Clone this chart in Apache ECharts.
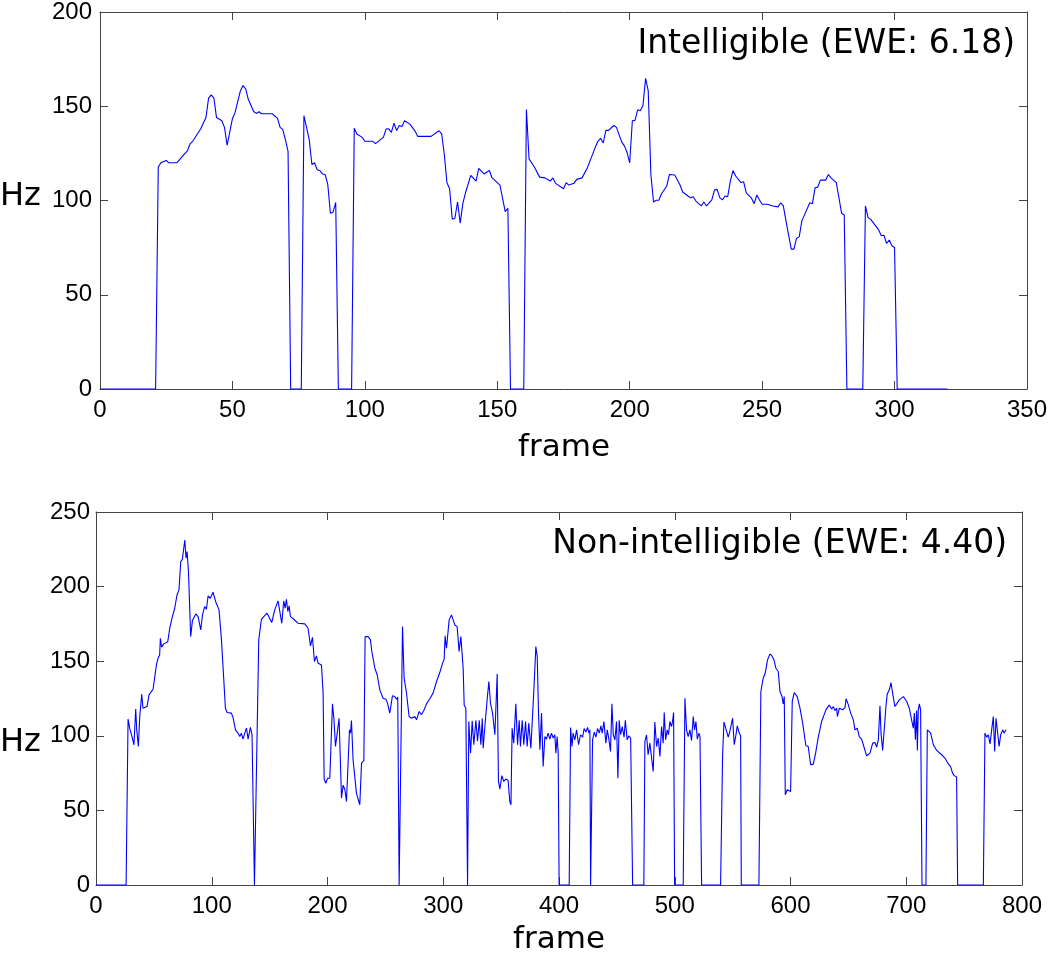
<!DOCTYPE html>
<html>
<head>
<meta charset="utf-8">
<script src="https://cdn.jsdelivr.net/npm/echarts@6/dist/echarts.min.js"></script>
<style>
html,body{margin:0;padding:0;background:#fff;}
#chart{width:1050px;height:954px;}
</style>
</head>
<body>
<div id="chart"></div>
<script>
// ---- Data: top panel (Intelligible) ----
const topFrames = [0,21,22,23,25,26,29,32,33,34,35,38,40,41,42,43,44,46,47,48,50,51,53,54,55,56,58,59,60,61,65,67,68,69,70,71,72,76,77,79,80,81,82,83,84,85,86,87,88,89,90,95,96,97,99,100,103,104,107,108,109,110,111,112,113,114,115,117,119,120,125,128,129,130,131,132,133,134,135,136,137,138,140,142,143,145,147,148,151,153,154,155,160,161,162,164,166,168,170,171,172,175,176,177,179,180,182,184,187,188,189,190,191,192,194,195,197,198,199,200,201,202,203,204,205,206,207,208,209,210,211,212,214,215,217,219,220,222,223,224,225,227,228,229,231,232,233,234,235,236,237,238,239,240,242,243,244,246,247,248,249,250,252,254,256,257,258,259,261,262,263,264,265,268,269,270,271,272,274,275,276,278,279,280,281,282,288,289,290,291,294,295,296,297,298,299,300,301,320];
const topHz = [0,0,117.8,120,121.2,120,120,124.9,126.3,130,131.4,137.9,144,154.3,156,154.3,144,142.3,138.8,129.3,143.4,146.7,158.1,161,159.2,153.7,147.2,146.2,147.1,146,146,143.7,138.8,137.7,132.3,126.1,0,0,145,132.3,119.1,120,116.3,115.9,114.1,113.8,108.5,93.2,93.8,99,0,0,138.3,135.3,133.5,131.4,131.4,130.2,133.5,137.9,138,136.1,141,137.1,139.8,139.2,142.3,140.5,136.7,134,134,137,135.3,124.4,109.4,106.2,90.1,90.6,99.2,88,98.5,104.1,113.3,110.3,117,114.1,115.9,112.1,108.2,94.1,95.9,0,0,148.3,122.1,117.8,112.4,112,110.3,112,109.1,106.2,109.5,108.2,109.2,111.2,112,117.3,128.2,131.4,133,130.5,137.2,137.2,139.8,138.8,131,129,125.5,120,142.3,142.5,148.1,147.6,150.4,164.8,158.1,113.8,99.2,100.1,100.1,103.6,107.7,113.8,113.5,108.2,104.5,102.4,101.5,102,99.7,97.1,99.2,97.1,100.3,105.5,105.9,101.5,100.3,102.4,102,110.3,115.9,113,109.5,110,104.1,101.2,98.3,102.9,100.3,98,98,97.1,96.6,98.8,97.1,89.2,74.2,74.2,80,80.7,89.2,98.8,98.3,106.8,107.1,110.8,110.8,113.8,112,109.5,101.5,93.2,92.3,0,0,97.1,90.9,90,84.4,81.3,81.6,77.2,79,76,75.1,0,0];

// ---- Data: bottom panel (Non-intelligible) ----
const botFrames = [0,26,27.7,29.1,29.9,31.1,32.8,34.3,35.2,36.6,37.8,39.5,40.6,42.1,44.1,45.8,49.3,50.4,52.2,53.6,55,55.6,56.7,58.5,60.2,62,63.7,66,68,70,71.7,73.2,74.6,76.7,77.8,78.7,79.9,81.8,83.3,84.5,86.2,88.2,90.5,92,93.9,95.4,96.8,98.8,101.1,103.4,106.3,108.4,110.4,111.8,113.2,117,118.5,120.5,122.7,124.2,125.6,127,128.5,130,131.4,133.4,134.8,135.7,136.9,138.6,140.6,142.9,144.9,147.8,149.5,151.8,154.4,157.3,158.8,160.5,162.2,163.4,164.5,165.7,166.8,168,170.9,174.6,180.4,183.2,185.3,187,188.7,190.4,191.9,194.8,196.2,197.1,198.5,200,202,204.3,205.5,206.9,210,212.1,213.5,215,216.4,217.8,219,219.9,220.7,222.1,223.5,225,226.5,227.9,229.4,231.4,232.5,235.1,237.1,238.3,239.4,240.9,242.9,245.2,248,250.4,251.8,253.8,256.1,258.1,259.5,260.7,261.9,263.6,264.8,266.2,268.2,270.5,272.6,275.4,276.9,279.2,281.1,283.2,285.5,288.4,291.2,294.2,297,299.4,300.8,301.6,302.8,304.2,305.1,307.1,308.5,310,312,313.7,315.2,317.2,318.1,319.5,321,322.1,323.6,325,326.4,328.2,329.6,331.1,332.5,333.7,334.5,336.3,337.9,339.4,340.8,342.6,344.6,346.6,347.7,348.9,350.6,352.3,354,356,357.5,358.5,359.5,360.9,362.7,364.2,365.6,366.7,368.2,369.6,371.1,372.5,373.9,375.7,377.1,378.5,380,381.2,382.3,383.5,384.9,386.3,387.8,389.2,390.6,392.1,393.5,395,396.4,397.3,398.4,399.3,400.1,408.8,410,411.2,412.2,413.7,415.2,416.9,418.6,420.4,421.7,423.2,424.7,425.8,426.7,427.3,428.1,429,430.5,431.9,433.3,434.8,436.2,437.3,438.8,440.5,441.7,443.1,444.5,445.7,446.9,448.3,449.7,450.9,452,453.2,454.6,456.2,457.3,458.9,460.3,461.9,463,463.6,473.3,474.2,475.6,477,478.5,479.9,481.4,482.8,484.3,485.7,487.2,488.6,490,490.9,492.1,493.5,494.6,495.8,497.2,498.1,499,499.9,507.3,508.8,510.2,511.6,513.1,514.5,516,517.1,518.3,519.5,520.9,521.8,523.2,539.6,541.3,542.5,544.2,546.2,547.6,549,550,551.4,552.9,554,555.7,556.9,557.5,572.7,574.4,576.4,578.1,580.2,582.2,584,585.7,587.4,589.4,590.9,592.7,593.7,594.6,595.5,597.2,598.9,600.1,601.5,603.2,605.8,608.2,610.5,613.3,615.3,617.4,619.7,621.7,624,626.9,630.6,633.5,635.5,637,638.4,639.9,640.5,642.2,645.1,647.1,648,650,652,654.3,655.7,657.7,659.4,661.4,662.9,665.8,668.7,671,673,674.4,675.9,677.3,678.2,679.6,681.6,682.5,683.6,685.4,686.8,688.2,690.2,691.6,694,697.5,700.4,702.6,704.6,706.1,707,707.9,709,709.6,710.4,711.3,712.4,713.6,717,718.2,719.3,721.1,723.4,726.3,730.6,733.4,736.3,738.3,740,741.5,743.5,744.4,766.6,768,769.5,770.9,772.4,773.8,775.2,776.4,777.5,779,780.2,781.6,783.3,784.5,786.2];
const botHz = [0,0,111.2,105.1,106.2,99.5,94,117.9,104,92.8,112.9,127.9,118.5,119.2,119.6,127.4,131.2,130.7,147.5,152,154.2,165.4,159.4,161.6,160.3,163.1,172.1,179.9,185.5,194.4,197.8,216.7,218.2,231.2,219,223.5,210,166.5,177.2,175.9,181.7,179.9,171,181,186.6,184.8,193.7,192.2,196.2,189.9,184.4,164.3,137.5,118.5,115.6,115.2,111.8,104,101.8,99.5,101.8,97.8,101.8,105.1,97.8,105.6,100.7,99.5,0,0,164.3,178.1,179.9,182.2,181.7,175.9,184.4,190.4,189.9,175.4,190.4,185.5,191.5,183.3,187.1,179.9,178.1,175.4,175,172.1,160.3,166,149.8,153.5,148.6,147.5,128.6,71,68.2,71.5,71.5,121.4,111.8,92.8,111.8,58.3,66.9,64,56,54.9,104,101.8,110.2,83.9,82.8,61.6,62,53.8,81.7,83.3,166.5,166.5,164.3,156.5,157.1,145.3,140.9,130.8,125.2,124.5,121.9,115.2,126.8,126.3,124.5,125.9,0,0,173.2,138.6,129,112.9,111.8,112.9,110.7,116.3,114.1,117,121.4,124.8,128.6,136.4,142.4,148.7,151.3,167,158.7,158.7,177.7,181,180.4,174.3,173.2,156.5,166.5,145.3,120.5,118.5,0,109.6,88.4,110,94,110.4,96.3,110.4,94,111.8,91.7,109.6,124.1,136.4,121.9,115.2,100.7,141.5,69.4,64.3,73.3,69.4,71,70.2,56,53.8,105.1,95.1,121.4,94,110.4,92.8,110.4,94,109.6,92.8,108.5,91.7,112.9,134.1,159.8,153.1,115.2,90.6,115.2,79.4,99.5,97.8,101.8,97.8,101.8,98.5,100.7,88.4,99.5,88.4,0,0,105.6,92.8,101.8,97.3,104,94,100.7,99.1,104.9,102.5,105.6,101.8,104,0,0,97.3,102.5,99.1,104.9,101.8,106.7,101.8,109.6,95.1,104,97.8,89.5,121.4,100.7,97.3,109.6,71.6,110.4,100.7,106.2,99.1,110.4,97.3,100,98.5,97.3,0,0,96.2,100.7,87.3,95.1,94,76.1,109.3,92.8,98.5,86.1,106.2,95.1,115.6,97.3,104,100.7,109.6,106.2,109.6,115.6,0,0,125.2,104,99.5,104,96.8,112.9,104,109.6,97.8,101.8,99.5,0,0,86.1,109.3,109.8,99.1,102.9,101.8,111.8,94,100.7,106.7,101.8,100,0,0,129.7,138.6,141.9,150.9,154.9,153.5,150.9,145.3,143.1,129.7,126.3,121.4,126.3,60.5,63.8,64.9,62.7,123,129,126.3,118.5,108.5,93.3,92.8,80.6,81,88.4,99.1,109.6,117.4,120.7,117.9,119.6,116.9,118.5,112.9,118.5,117.4,119,124.8,120.7,115.2,110.7,104,105.1,99.5,97.8,94,86.6,88.4,95.1,95.5,92.4,97.3,120.1,101.8,90.2,110.4,120.1,128.1,130.8,135.7,128.6,119.6,120.7,124.1,126.3,123,118.5,110.7,105.1,115.2,97.3,116.9,90.2,117.4,121.4,117.4,0,0,104,105.1,101.8,94,90.2,87.3,85.1,81.3,79.4,75,73.3,72.4,0,0,101.8,99.1,100.7,94.6,104,112.9,89.5,111.8,101.8,92.8,100.7,104,101.8,104];

// ---- Axis settings ----
const topXRange = [0, 350], topXStep = 50;
const topYRange = [0, 200], topYStep = 50;
const botXRange = [0, 800], botXStep = 100;
const botYRange = [0, 250], botYStep = 50;
const labels = {
  topNote: 'Intelligible (EWE: 6.18)',
  botNote: 'Non-intelligible (EWE: 4.40)',
  xName: 'frame',
  yName: 'Hz'
};

const zip = (a, b) => a.map((v, i) => [v, b[i]]);

const AX = '#444';
const tickFont = 'Liberation Sans';

function xAx(grid, range, step, pos, showLabel) {
  return {
    type: 'value', gridIndex: grid, position: pos, min: range[0], max: range[1], interval: step,
    axisLine: { show: true, onZero: false, lineStyle: { color: AX, width: 1 } },
    axisTick: { show: true, inside: true, length: 8, lineStyle: { color: AX } },
    axisLabel: { show: showLabel, color: '#000', fontFamily: tickFont, fontSize: 24, margin: 9 },
    splitLine: { show: false }
  };
}
function yAx(grid, range, step, pos, showLabel, margin) {
  return {
    type: 'value', gridIndex: grid, position: pos, min: range[0], max: range[1], interval: step,
    axisLine: { show: true, onZero: false, lineStyle: { color: AX, width: 1 } },
    axisTick: { show: true, inside: true, length: 8, lineStyle: { color: AX } },
    axisLabel: { show: showLabel, color: '#000', fontFamily: tickFont, fontSize: 24, margin: margin },
    splitLine: { show: false }
  };
}

const chart = echarts.init(document.getElementById('chart'), null, { renderer: 'canvas' });
chart.setOption({
  backgroundColor: '#fff',
  animation: false,
  grid: [
    { left: 100, top: 10, width: 928, height: 379 },
    { left: 96, top: 512, width: 926, height: 373 }
  ],
  xAxis: [
    xAx(0, topXRange, topXStep, 'bottom', true),
    xAx(0, topXRange, topXStep, 'top', false),
    xAx(1, botXRange, botXStep, 'bottom', true),
    xAx(1, botXRange, botXStep, 'top', false)
  ],
  yAxis: [
    yAx(0, topYRange, topYStep, 'left', true, 8),
    yAx(0, topYRange, topYStep, 'right', false, 8),
    yAx(1, botYRange, botYStep, 'left', true, 6),
    yAx(1, botYRange, botYStep, 'right', false, 6)
  ],
  series: [
    { type: 'line', xAxisIndex: 0, yAxisIndex: 0, data: zip(topFrames, topHz), showSymbol: false,
      lineStyle: { color: '#0000ff', width: 1.1 }, z: 3 },
    { type: 'line', xAxisIndex: 2, yAxisIndex: 2, data: zip(botFrames, botHz), showSymbol: false,
      lineStyle: { color: '#0000ff', width: 1.1 }, z: 3 }
  ],
  graphic: [
    { type: 'text', x: 1015, y: 44, style: { text: labels.topNote, font: '33px "DejaVu Sans"', fill: '#000', textAlign: 'right', textVerticalAlign: 'middle' } },
    { type: 'text', x: 1007, y: 544, style: { text: labels.botNote, font: '33px "DejaVu Sans"', fill: '#000', textAlign: 'right', textVerticalAlign: 'middle' } },
    { type: 'text', x: 564, y: 448, style: { text: labels.xName, font: '31px "DejaVu Sans"', fill: '#000', textAlign: 'center', textVerticalAlign: 'middle' } },
    { type: 'text', x: 559, y: 940, style: { text: labels.xName, font: '31px "DejaVu Sans"', fill: '#000', textAlign: 'center', textVerticalAlign: 'middle' } },
    { type: 'text', x: 0, y: 197, style: { text: labels.yName, font: '32px "DejaVu Sans"', fill: '#000', textAlign: 'left', textVerticalAlign: 'middle' } },
    { type: 'text', x: 0, y: 743, style: { text: labels.yName, font: '32px "DejaVu Sans"', fill: '#000', textAlign: 'left', textVerticalAlign: 'middle' } }
  ]
});
</script>
</body>
</html>
